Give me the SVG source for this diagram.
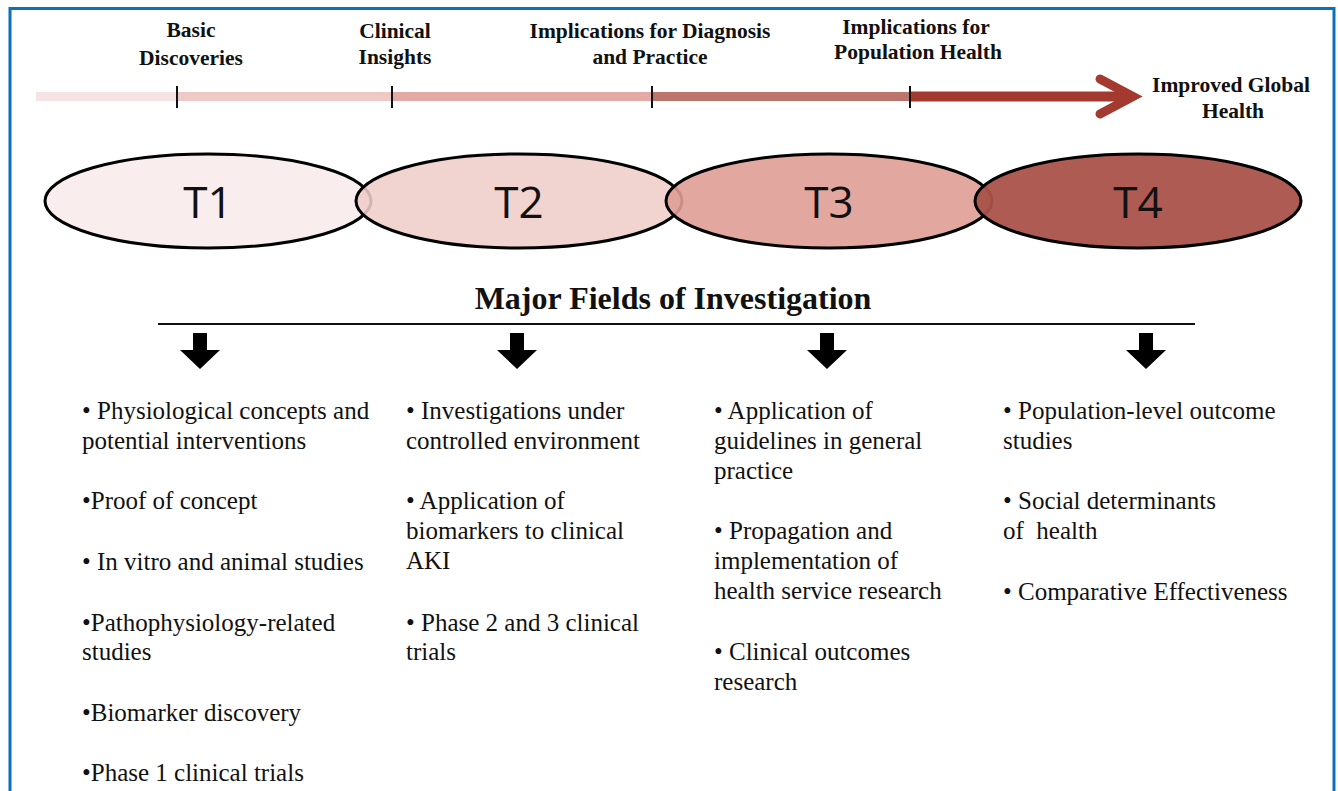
<svg xmlns="http://www.w3.org/2000/svg" width="1338" height="791" viewBox="0 0 1338 791">
<defs>
<style>
.hd{font-family:"Liberation Serif","Times New Roman",serif;font-weight:bold;font-size:21.5px;fill:#111;text-anchor:middle}
.tl{font-family:"Open Sans","Liberation Sans",sans-serif;font-size:44px;fill:#111;text-anchor:middle}
.bd{font-family:"Liberation Serif","Times New Roman",serif;font-size:25px;fill:#111}
.ell{stroke:#000;stroke-width:3}
.tick{stroke:#111;stroke-width:2}
.dn{fill:#000}
</style>
</defs>
<rect x="0" y="0" width="1338" height="791" fill="#fff"/>
<rect x="10" y="8.5" width="1324" height="800" fill="none" stroke="#0a71bd" stroke-width="3"/>

<g id="timeline">
<rect x="36" y="92" width="141" height="9" fill="#f6e3e3"/>
<rect x="177" y="92" width="215" height="9" fill="#efc9c6"/>
<rect x="392" y="92" width="260" height="9" fill="#e3a9a5"/>
<rect x="652" y="92" width="258" height="9" fill="#bb756c"/>
<rect x="910" y="91.5" width="222" height="10" fill="#a4392f"/>
<polyline points="1100,79 1133,96.5 1100,114" fill="none" stroke="#a4392f" stroke-width="9" stroke-linecap="round" stroke-linejoin="miter"/>
<line class="tick" x1="177" y1="86" x2="177" y2="108"/>
<line class="tick" x1="392" y1="86" x2="392" y2="108"/>
<line class="tick" x1="652" y1="86" x2="652" y2="108"/>
<line class="tick" x1="910" y1="86" x2="910" y2="108"/>
</g>

<g id="labels">
<text class="hd" x="191" y="37">Basic</text>
<text class="hd" x="191" y="65">Discoveries</text>
<text class="hd" x="395" y="38">Clinical</text>
<text class="hd" x="395" y="64">Insights</text>
<text class="hd" x="650" y="38">Implications for Diagnosis</text>
<text class="hd" x="650" y="64">and Practice</text>
<text class="hd" x="916" y="34">Implications for</text>
<text class="hd" x="918" y="59">Population Health</text>
<text class="hd" x="1231" y="92">Improved Global</text>
<text class="hd" x="1233" y="118">Health</text>
</g>

<g id="T1"><ellipse class="ell" cx="208" cy="201" rx="163" ry="47" fill="#f8ebeb" fill-opacity="0.92"/><text class="tl" x="208" y="218">T1</text></g>
<g id="T2"><ellipse class="ell" cx="519" cy="201" rx="163" ry="47" fill="#efcdc8" fill-opacity="0.88"/><text class="tl" x="519" y="218">T2</text></g>
<g id="T3"><ellipse class="ell" cx="829" cy="201" rx="163" ry="47" fill="#df9e96" fill-opacity="0.9"/><text class="tl" x="829" y="218">T3</text></g>
<g id="T4"><ellipse class="ell" cx="1138" cy="201" rx="163" ry="47" fill="#a9524a" fill-opacity="0.95"/><text class="tl" x="1138" y="218">T4</text></g>

<g id="fields">
<text x="673" y="309" style="font-family:'Liberation Serif','Times New Roman',serif;font-weight:bold;font-size:32px;fill:#111;text-anchor:middle">Major Fields of Investigation</text>
<line x1="158" y1="324" x2="1195" y2="324" stroke="#111" stroke-width="2"/>
</g>

<g id="connectors">
<polygon class="dn" points="193,333 207,333 207,350 220,350 200,369 180,350 193,350"/>
<polygon class="dn" points="510,333 524,333 524,350 537,350 517,369 497,350 510,350"/>
<polygon class="dn" points="820,333 834,333 834,350 847,350 827,369 807,350 820,350"/>
<polygon class="dn" points="1139,333 1153,333 1153,350 1166,350 1146,369 1126,350 1139,350"/>
</g>

<g id="col1">
<text class="bd" x="82" y="419">• Physiological concepts and</text>
<text class="bd" x="82" y="449">potential interventions</text>
<text class="bd" x="82" y="509">•Proof of concept</text>
<text class="bd" x="82" y="570">• In vitro and animal studies</text>
<text class="bd" x="82" y="631">•Pathophysiology-related</text>
<text class="bd" x="82" y="660">studies</text>
<text class="bd" x="82" y="721">•Biomarker discovery</text>
<text class="bd" x="82" y="781">•Phase 1 clinical trials</text>
</g>

<g id="col2">
<text class="bd" x="406" y="419">• Investigations under</text>
<text class="bd" x="406" y="449">controlled environment</text>
<text class="bd" x="406" y="509">• Application of</text>
<text class="bd" x="406" y="539">biomarkers to clinical</text>
<text class="bd" x="406" y="569">AKI</text>
<text class="bd" x="406" y="631">• Phase 2 and 3 clinical</text>
<text class="bd" x="406" y="660">trials</text>
</g>

<g id="col3">
<text class="bd" x="714" y="419">• Application of</text>
<text class="bd" x="714" y="449">guidelines in general</text>
<text class="bd" x="714" y="479">practice</text>
<text class="bd" x="714" y="539">• Propagation and</text>
<text class="bd" x="714" y="569">implementation of</text>
<text class="bd" x="714" y="599">health service research</text>
<text class="bd" x="714" y="660">• Clinical outcomes</text>
<text class="bd" x="714" y="690">research</text>
</g>

<g id="col4">
<text class="bd" x="1003" y="419">• Population-level outcome</text>
<text class="bd" x="1003" y="449">studies</text>
<text class="bd" x="1003" y="509">• Social determinants</text>
<text class="bd" x="1003" y="539" xml:space="preserve">of  health</text>
<text class="bd" x="1003" y="600">• Comparative Effectiveness</text>
</g>
</svg>
